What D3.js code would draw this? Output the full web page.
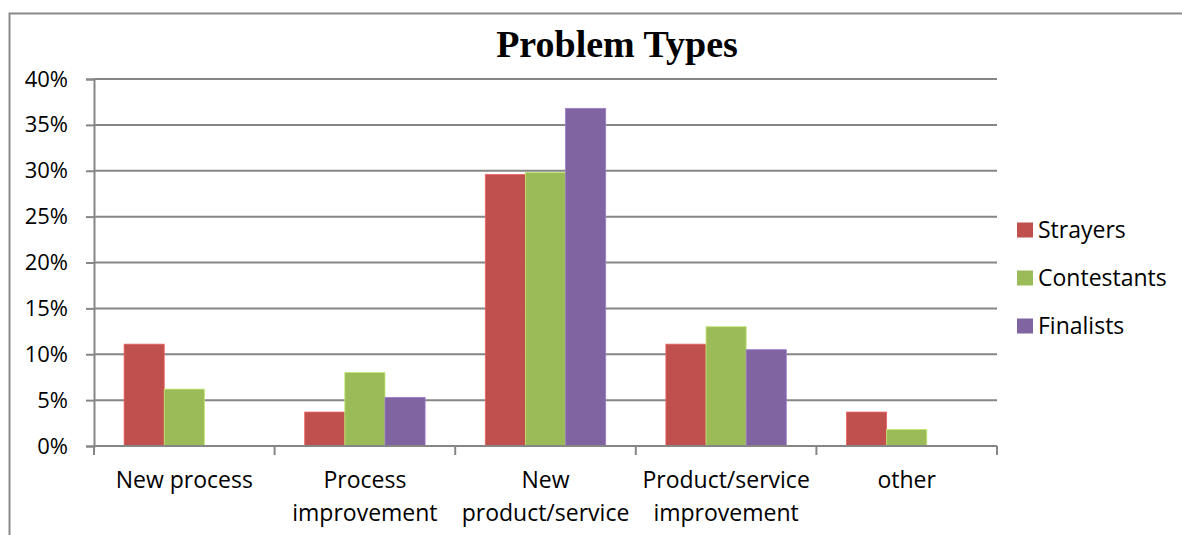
<!DOCTYPE html>
<html>
<head>
<meta charset="utf-8">
<script src="https://cdn.jsdelivr.net/npm/d3@7"></script>
<style>
  html, body { margin: 0; padding: 0; background: #fff; }
  svg { display: block; }
</style>
</head>
<body>
<div id="chart"></div>
<script>
// Problem type shares by group
const categories = [
  ["New process"],
  ["Process", "improvement"],
  ["New", "product/service"],
  ["Product/service", "improvement"],
  ["other"]
];
const seriesNames = ["Strayers", "Contestants", "Finalists"];
const strayers    = [0.111, 0.037, 0.296, 0.111, 0.037];
const contestants = [0.062, 0.080, 0.298, 0.130, 0.018];
const finalists   = [0.000, 0.053, 0.368, 0.105, 0.000];
const yTicks = [0, 0.05, 0.10, 0.15, 0.20, 0.25, 0.30, 0.35, 0.40];
const colors = ["#C0504D", "#9BBB59", "#8064A2"];

const W = 1182, H = 535;
const plot = { left: 94, right: 997, top: 79, bottom: 446 };
const font = "'Open Sans', 'Noto Sans', sans-serif";

const svg = d3.select("#chart").append("svg")
  .attr("width", W).attr("height", H);

// outer chart frame
svg.append("path")
  .attr("d", `M9.5,${H} V13.5 H${W}`)
  .attr("fill", "none").attr("stroke", "#8a8a8a").attr("stroke-width", 2);

const keys = categories.map((c, i) => i);
const x = d3.scaleBand().domain(keys).range([plot.left, plot.right]).padding(0);
const y = d3.scaleLinear().domain([0, 0.40]).range([plot.bottom, plot.top]);

const barW = x.bandwidth() / 4.5;   // gap width 150%
const xs = d3.scaleBand().domain(seriesNames)
  .range([0, barW * 3]);

// gridlines + y axis
const yAxis = d3.axisLeft(y).tickValues(yTicks)
  .tickFormat(d3.format(".0%")).tickSize(8).tickPadding(18);
const gy = svg.append("g").attr("transform", `translate(${plot.left},0)`).call(yAxis);
gy.select(".domain").attr("stroke", "#868686").attr("stroke-width", 2);
gy.selectAll(".tick line").attr("stroke", "#868686").attr("stroke-width", 2);
gy.selectAll(".tick text").attr("font-family", font).attr("font-size", 22).attr("fill", "#000");

svg.append("g").selectAll("line").data(yTicks.filter(d => d > 0)).join("line")
  .attr("x1", plot.left).attr("x2", plot.right)
  .attr("y1", d => y(d)).attr("y2", d => y(d))
  .attr("stroke", "#868686").attr("stroke-width", 2);

// bars
const series = [strayers, contestants, finalists];
const groupOffset = (x.bandwidth() - barW * 3) / 2;
series.forEach((vals, si) => {
  svg.append("g").selectAll("rect").data(vals).join("rect")
    .attr("x", (d, i) => x(i) + groupOffset + xs(seriesNames[si]))
    .attr("y", d => y(d))
    .attr("width", xs.bandwidth())
    .attr("height", d => y(0) - y(d))
    .attr("fill", colors[si])
    .attr("stroke", d => d > 0 ? d3.color(colors[si]).brighter(0.6) : "none")
    .attr("stroke-width", 0.8);
});

// category axis
const xAxisG = svg.append("g");
xAxisG.append("line")
  .attr("x1", plot.left).attr("x2", plot.right)
  .attr("y1", y(0)).attr("y2", y(0))
  .attr("stroke", "#868686").attr("stroke-width", 2);
const bounds = keys.map(k => x(k)).concat([plot.right]);
xAxisG.selectAll("line.tick").data(bounds).join("line").attr("class", "tick")
  .attr("x1", d => d).attr("x2", d => d)
  .attr("y1", y(0)).attr("y2", y(0) + 9)
  .attr("stroke", "#868686").attr("stroke-width", 2);

const labels = xAxisG.selectAll("text").data(categories).join("text")
  .attr("x", (d, i) => x(i) + x.bandwidth() / 2)
  .attr("y", 488)
  .attr("text-anchor", "middle")
  .attr("font-family", font).attr("font-size", 23).attr("fill", "#000");
labels.selectAll("tspan").data(d => d).join("tspan")
  .attr("x", function () { return this.parentNode.getAttribute("x"); })
  .attr("dy", (d, i) => i === 0 ? 0 : 33)
  .text(d => d);

// title
svg.append("text")
  .attr("x", 617).attr("y", 57)
  .attr("text-anchor", "middle")
  .attr("font-family", "'Liberation Serif', 'Times New Roman', serif")
  .attr("font-weight", "bold").attr("font-size", 38)
  .text("Problem Types");

// legend
const legend = svg.append("g").attr("transform", "translate(1017,230)");
const li = legend.selectAll("g").data(seriesNames).join("g")
  .attr("transform", (d, i) => `translate(0,${i * 48})`);
li.append("rect").attr("x", 0).attr("y", -7.5).attr("width", 16).attr("height", 15)
  .attr("fill", (d, i) => colors[i]);
li.append("text").attr("x", 21).attr("y", 8)
  .attr("font-family", font).attr("font-size", 23).attr("fill", "#000")
  .text(d => d);
</script>
</body>
</html>
